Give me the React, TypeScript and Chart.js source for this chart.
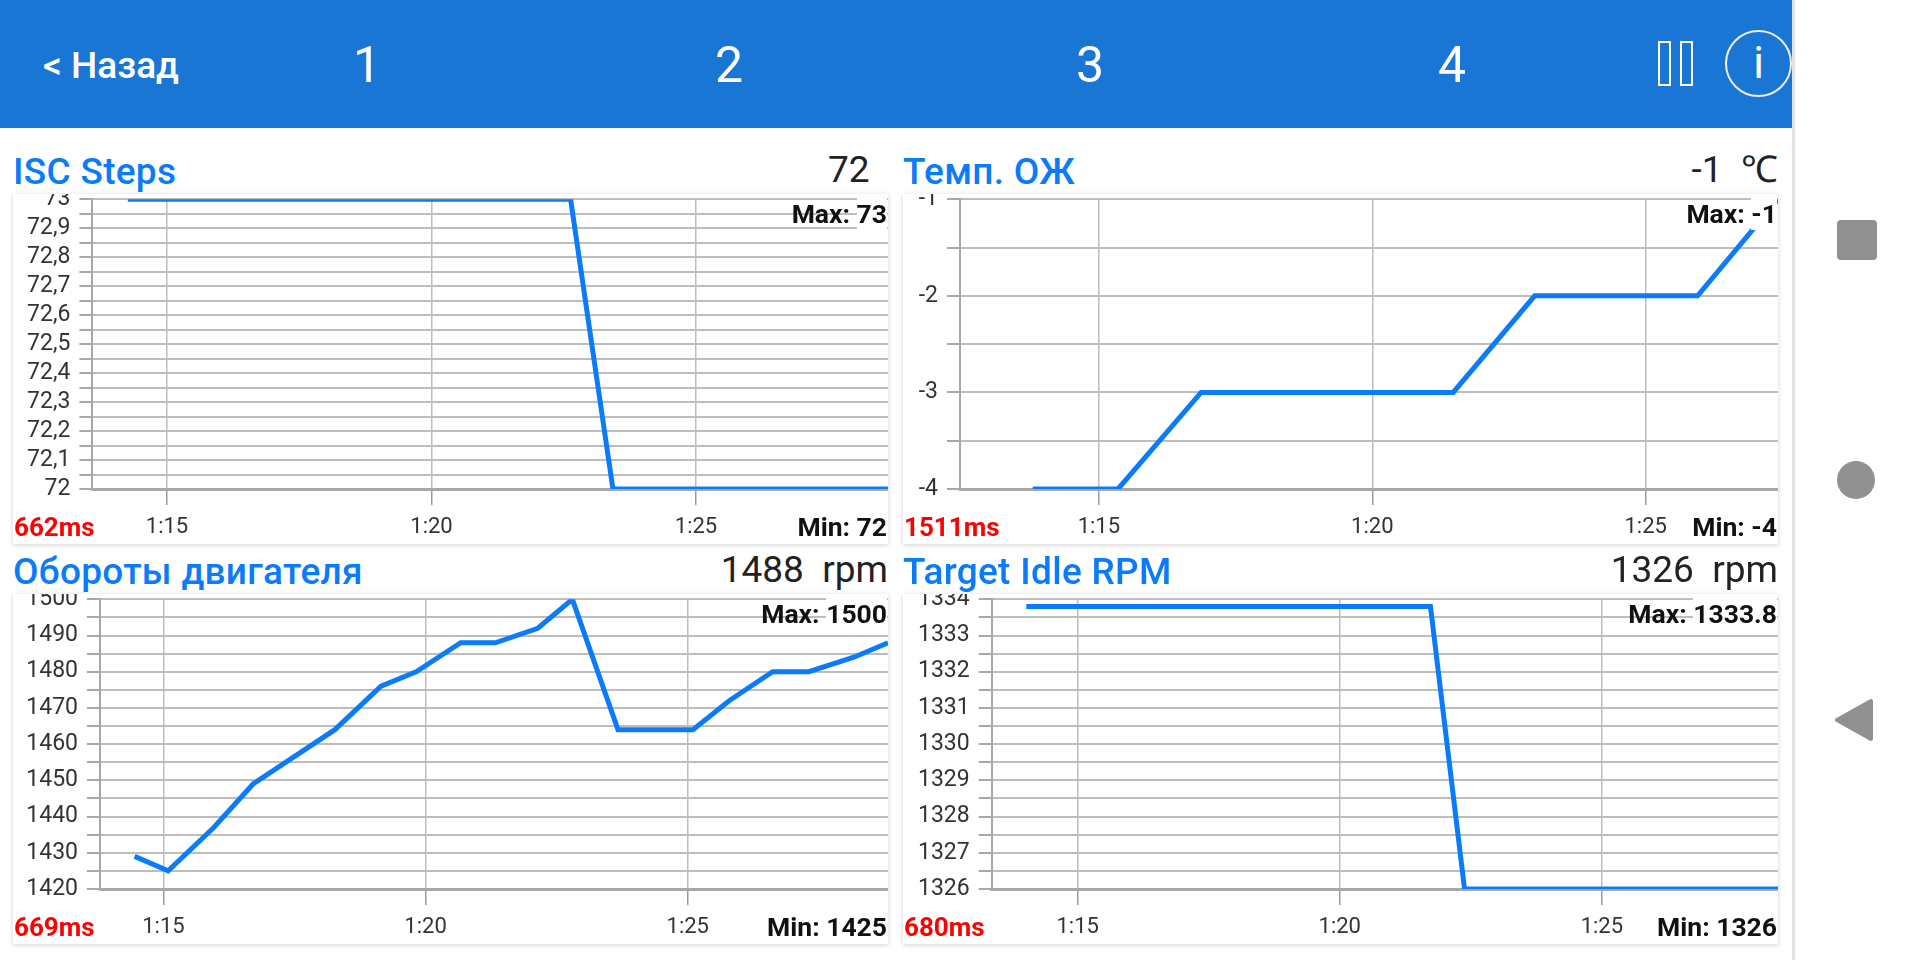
import { useEffect, useRef } from "react";
import { Chart, registerables } from "chart.js";

Chart.register(...registerables);

// time in seconds (1:15 = 75)
const timeTicks = [75, 80, 85];
const timeTickLabels = ["1:15", "1:20", "1:25"];

const iscTimes = [74.26, 82.63, 83.43, 88.63];
const iscValues = [73, 73, 72, 72];
const iscTicks = [72, 72.05, 72.1, 72.15, 72.2, 72.25, 72.3, 72.35, 72.4, 72.45, 72.5, 72.55, 72.6, 72.65, 72.7, 72.75, 72.8, 72.85, 72.9, 72.95, 73];
const iscTickLabels = ["72", "", "72,1", "", "72,2", "", "72,3", "", "72,4", "", "72,5", "", "72,6", "", "72,7", "", "72,8", "", "72,9", "", "73"];

const tempTimes = [73.79, 75.35, 76.87, 81.48, 82.97, 85.95, 87.42];
const tempValues = [-4, -4, -3, -3, -2, -2, -1];
const tempTicks = [-4, -3.5, -3, -2.5, -2, -1.5, -1];
const tempTickLabels = ["-4", "", "-3", "", "-2", "", "-1"];

const rpmTimes = [74.45, 75.09, 75.96, 76.71, 78.27, 79.15, 79.82, 80.67, 81.33, 82.14, 82.8, 83.67, 85.1, 85.79, 86.62, 87.31, 88.17, 88.82];
const rpmValues = [1429, 1425, 1437, 1449, 1464, 1476, 1480, 1488, 1488, 1492, 1500, 1464, 1464, 1472, 1480, 1480, 1484, 1488];
const rpmTicks = [1420, 1425, 1430, 1435, 1440, 1445, 1450, 1455, 1460, 1465, 1470, 1475, 1480, 1485, 1490, 1495, 1500];
const rpmTickLabels = ["1420", "", "1430", "", "1440", "", "1450", "", "1460", "", "1470", "", "1480", "", "1490", "", "1500"];

const idleTimes = [74.02, 81.73, 82.38, 88.36];
const idleValues = [1333.8, 1333.8, 1326, 1326];
const idleTicks = [1326, 1326.5, 1327, 1327.5, 1328, 1328.5, 1329, 1329.5, 1330, 1330.5, 1331, 1331.5, 1332, 1332.5, 1333, 1333.5, 1334];
const idleTickLabels = ["1326", "", "1327", "", "1328", "", "1329", "", "1330", "", "1331", "", "1332", "", "1333", "", "1334"];

const FONT = "Roboto, sans-serif";
const CARD_W = 875;
const CARD_H = 350;
const BLUE = "#0a7bfb";
const GRID = "#bdbdbd";
const AXIS = "#a8a8a8";

interface PanelProps {
  left: number;
  top: number;
  title: string;
  current: string;
  period: string;
  maxText: string;
  minText: string;
  times: number[];
  values: number[];
  ticks: number[];
  tickLabels: string[];
  xMin: number;
  xMax: number;
  axisLeft: number;
}

function Panel(p: PanelProps) {
  const canvasRef = useRef<HTMLCanvasElement>(null);

  useEffect(() => {
    if (!canvasRef.current) return;
    const chart = new Chart(canvasRef.current, {
      type: "line",
      data: {
        datasets: [
          {
            data: p.times.map((t, i) => ({ x: t, y: p.values[i] })),
            borderColor: BLUE,
            borderWidth: 5,
            pointRadius: 0,
            tension: 0,
            clip: 0,
          },
        ],
      },
      options: {
        animation: false,
        responsive: false,
        devicePixelRatio: 1,
        layout: { padding: { top: 5.3, left: 0, right: 0, bottom: 0 } },
        plugins: { legend: { display: false }, tooltip: { enabled: false } },
        scales: {
          x: {
            type: "linear",
            min: p.xMin,
            max: p.xMax,
            afterBuildTicks: (scale) => {
              scale.ticks = timeTicks.map((value) => ({ value }));
            },
            afterFit: (scale) => {
              scale.height = 55;
              scale.paddingLeft = 0;
              scale.paddingRight = 0;
            },
            ticks: {
              autoSkip: false,
              maxRotation: 0,
              padding: 9,
              color: "#333",
              font: { family: FONT, size: 22 },
              callback: (v) => timeTickLabels[timeTicks.indexOf(Number(v))],
            },
            grid: { color: GRID, lineWidth: 1.5, tickLength: 16, tickColor: "#999", tickWidth: 1.5 },
            border: { color: AXIS, width: 3 },
          },
          y: {
            type: "linear",
            min: p.ticks[0],
            max: p.ticks[p.ticks.length - 1],
            afterBuildTicks: (scale) => {
              scale.ticks = p.ticks.map((value) => ({ value }));
            },
            afterFit: (scale) => {
              scale.width = p.axisLeft;
              scale.paddingTop = 0;
              scale.paddingBottom = 0;
            },
            ticks: {
              autoSkip: false,
              padding: 9,
              color: "#333",
              font: { family: FONT, size: 23 },
              callback: (v) => p.tickLabels[p.ticks.indexOf(Number(v))],
            },
            grid: { color: GRID, lineWidth: 2, tickLength: 13, tickColor: AXIS, tickWidth: 2 },
            border: { color: AXIS, width: 2 },
          },
        },
      },
    });
    return () => chart.destroy();
  }, []);

  const maxParts = p.maxText.split(" ");

  return (
    <>
      <div style={{ position: "absolute", left: p.left, top: p.top - 44, font: `500 37px/44px ${FONT}`, letterSpacing: 0.3, color: BLUE, whiteSpace: "pre" }}>
        {p.title}
      </div>
      <div style={{ position: "absolute", left: p.left, width: CARD_W, top: p.top - 46, textAlign: "right", font: `400 37px/44px ${FONT}`, color: "#222", whiteSpace: "pre" }}>
        {p.current}
      </div>
      <div style={{ position: "absolute", left: p.left, top: p.top, width: CARD_W, height: CARD_H, background: "#fff", boxShadow: "0 1px 5px rgba(0,0,0,0.18)" }}>
        <canvas ref={canvasRef} width={CARD_W} height={CARD_H} style={{ display: "block" }} />
        <div style={{ position: "absolute", right: 1, top: 4, font: `700 26.5px/32px ${FONT}`, color: "#111", whiteSpace: "pre" }}>
          {maxParts[0]}{" "}
          <span style={{ background: "#fff", display: "inline-block" }}>{maxParts[1]}</span>
        </div>
        <div style={{ position: "absolute", left: 1, top: 317, font: `700 26px/32px ${FONT}`, color: "#f00" }}>{p.period}</div>
        <div style={{ position: "absolute", right: 1, top: 317, font: `700 26.5px/32px ${FONT}`, color: "#111", whiteSpace: "pre" }}>{p.minText}</div>
      </div>
    </>
  );
}

const headerNumbers = [
  { text: "1", x: 367 },
  { text: "2", x: 729 },
  { text: "3", x: 1090 },
  { text: "4", x: 1452 },
];

export default function App() {
  return (
    <div style={{ position: "relative", width: 1920, height: 960, overflow: "hidden", background: "#fff", fontFamily: FONT }}>
      <style>{`body{margin:0}`}</style>

      <div style={{ position: "absolute", left: 0, top: 0, width: 1792, height: 128, background: "#1976d4" }} />
      <div style={{ position: "absolute", left: 1792, top: 0, width: 3, height: 960, background: "#e2e2e2" }} />
      <div style={{ position: "absolute", left: 43, top: 44, font: `500 37px/44px ${FONT}`, color: "#fff", whiteSpace: "pre" }}>{"< Назад"}</div>
      {headerNumbers.map((n) => (
        <div key={n.text} style={{ position: "absolute", left: n.x - 40, width: 80, top: 35, textAlign: "center", font: `400 50px/60px ${FONT}`, color: "#fff" }}>
          {n.text}
        </div>
      ))}
      <div style={{ position: "absolute", left: 1658, top: 41, width: 9, height: 41, border: "2.5px solid #fff" }} />
      <div style={{ position: "absolute", left: 1680, top: 41, width: 9, height: 41, border: "2.5px solid #fff" }} />
      <div style={{ position: "absolute", left: 1725, top: 30, width: 63, height: 63, border: "2.5px solid #eef", borderRadius: "50%", textAlign: "center", font: `400 44px/63px ${FONT}`, color: "#fff" }}>i</div>

      <Panel left={13} top={194} title="ISC Steps" current={"72  "} period="662ms" maxText="Max: 73" minText="Min: 72"
        times={iscTimes} values={iscValues} ticks={iscTicks} tickLabels={iscTickLabels} xMin={73.59} xMax={88.63} axisLeft={79.4} />
      <Panel left={903} top={194} title="Темп. ОЖ" current={"-1  ℃"} period="1511ms" maxText="Max: -1" minText="Min: -4"
        times={tempTimes} values={tempValues} ticks={tempTicks} tickLabels={tempTickLabels} xMin={72.46} xMax={87.42} axisLeft={57} />
      <Panel left={13} top={594} title="Обороты двигателя" current="1488  rpm" period="669ms" maxText="Max: 1500" minText="Min: 1425"
        times={rpmTimes} values={rpmValues} ticks={rpmTicks} tickLabels={rpmTickLabels} xMin={73.79} xMax={88.82} axisLeft={87} />
      <Panel left={903} top={594} title="Target Idle RPM" current="1326  rpm" period="680ms" maxText="Max: 1333.8" minText="Min: 1326"
        times={idleTimes} values={idleValues} ticks={idleTicks} tickLabels={idleTickLabels} xMin={73.36} xMax={88.36} axisLeft={88.7} />

      <div style={{ position: "absolute", left: 1837, top: 220, width: 40, height: 40, background: "#919191", borderRadius: 4 }} />
      <div style={{ position: "absolute", left: 1837, top: 461, width: 38, height: 38, background: "#919191", borderRadius: "50%" }} />
      <svg style={{ position: "absolute", left: 1830, top: 694 }} width={46} height={52}>
        <path d="M7 26 L41 7 L41 45 Z" fill="#919191" stroke="#919191" strokeWidth={4} strokeLinejoin="round" />
      </svg>
    </div>
  );
}
